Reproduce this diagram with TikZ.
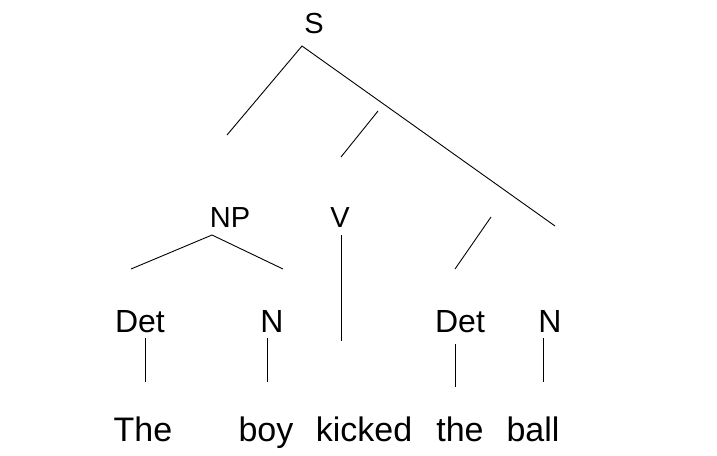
\documentclass[tikz,border=0pt]{standalone}
\usepackage{fontspec}
\setmainfont{Liberation Sans}

\begin{document}
\begin{tikzpicture}[x=1pt,y=-1pt,line width=0.9pt,
  phrase/.style={anchor=base,inner sep=0pt,font=\fontsize{29}{29}\selectfont},
  cat/.style={anchor=base,inner sep=0pt,font=\fontsize{32}{32}\selectfont},
  word/.style={anchor=base,inner sep=0pt,font=\fontsize{34}{34}\selectfont}]
\useasboundingbox (0,0) rectangle (717,455);

\node[phrase] (s) at (314,33) {S};
\node[phrase] (np) at (230,227) {NP};
\node[phrase] (v) at (340,227) {V};
\node[cat] (det1) at (140,332) {Det};
\node[cat] (n1) at (272,332) {N};
\node[cat] (det2) at (460,332) {Det};
\node[cat] (n2) at (550,332) {N};
\node[word] (the1) at (143,441) {The};
\node[word] (boy) at (266,441) {boy};
\node[word] (kicked) at (364,441) {kicked};
\node[word] (the2) at (460,441) {the};
\node[word] (ball) at (533,441) {ball};

% branch ends
\coordinate (sTop) at (302,46);
\coordinate (sLeft) at (227,135);
\coordinate (sRight) at (555,226);
\coordinate (vpTop) at (378,111);
\coordinate (vpBot) at (341,157);
\coordinate (npTop) at (212,235);
\coordinate (npLeft) at (131,269);
\coordinate (npRight) at (283,269);
\coordinate (vTop) at (341,235);
\coordinate (vBot) at (341,341);
\coordinate (dpTop) at (491,217);
\coordinate (dpBot) at (455,269);
\coordinate (detTop) at (145,338);
\coordinate (detBot) at (145,382);
\coordinate (nTop) at (267,338);
\coordinate (nBot) at (267,382);
\coordinate (detbTop) at (455,344);
\coordinate (detbBot) at (455,387);
\coordinate (nbTop) at (543,338);
\coordinate (nbBot) at (543,382);

\draw (sLeft) -- (sTop) -- (sRight);
\draw (vpTop) -- (vpBot);
\draw (npLeft) -- (npTop) -- (npRight);
\draw (vTop) -- (vBot);
\draw (dpTop) -- (dpBot);
\draw (detTop) -- (detBot);
\draw (nTop) -- (nBot);
\draw (detbTop) -- (detbBot);
\draw (nbTop) -- (nbBot);
\end{tikzpicture}
\end{document}
